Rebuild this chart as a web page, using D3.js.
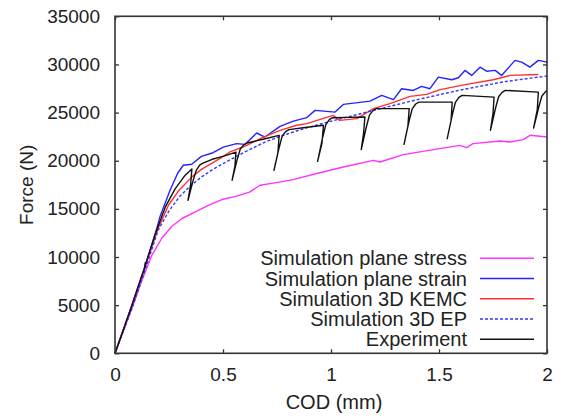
<!DOCTYPE html>
<html>
<head>
<meta charset="utf-8">
<script src="https://cdn.jsdelivr.net/npm/d3@7"></script>
<style>
  html, body { margin: 0; padding: 0; background: #fff; }
  text { font-family: "Liberation Sans", Arial, Helvetica, sans-serif; fill: #222; }
</style>
</head>
<body>
<svg id="chart" width="568" height="418"></svg>
<script>
// values: [COD (mm), Force (N)]
const codTicks = [0, 0.5, 1, 1.5, 2];
const forceTicks = [0, 5000, 10000, 15000, 20000, 25000, 30000, 35000];

const planeStress = [[0,0],[0.04,2450],[0.079,4700],[0.125,7600],[0.171,10200],[0.218,12000],[0.264,13200],
  [0.31,14000],[0.372,14680],[0.434,15380],[0.495,15970],[0.56,16300],[0.625,16760],[0.671,17450],[0.74,17700],
  [0.825,18040],[0.934,18670],[1.057,19350],[1.196,20040],[1.227,19870],[1.335,20640],[1.474,21150],
  [1.597,21600],[1.628,21360],[1.657,21780],[1.782,22050],[1.829,21940],[1.89,22190],[1.921,22640],[2.0,22460]];

const planeStrain = [[0,0],[0.08,5100],[0.14,9100],[0.185,12300],[0.208,14170],[0.255,16930],[0.29,18700],
  [0.316,19530],[0.355,19630],[0.4,20450],[0.45,20800],[0.501,21420],[0.563,21780],[0.602,21700],[0.656,22880],
  [0.694,22460],[0.764,23570],[0.826,24120],[0.887,24470],[0.926,25230],[1.019,25050],[1.057,25850],
  [1.181,26190],[1.235,26780],[1.289,26340],[1.327,27480],[1.381,27300],[1.42,27720],[1.458,27480],
  [1.497,28680],[1.559,28410],[1.59,28620],[1.62,29380],[1.651,28860],[1.69,29720],[1.72,29300],[1.76,29380],
  [1.79,28860],[1.852,30420],[1.883,30240],[1.921,29720],[1.96,30420],[2.0,30240]];

const kemc = [[0,0],[0.08,5100],[0.14,9000],[0.2,13000],[0.248,15400],[0.295,16900],[0.36,18400],[0.4,19100],
  [0.45,19750],[0.49,20300],[0.532,20910],[0.6,21500],[0.687,22460],[0.764,23160],[0.841,23680],[0.888,23850],
  [0.95,24300],[1.01,24710],[1.04,24190],[1.12,24370],[1.196,25410],[1.273,25930],[1.366,26680],[1.443,26890],
  [1.505,27380],[1.628,27930],[1.751,28410],[1.829,28860],[1.96,28960]];

const ep = [[0,0],[0.079,4700],[0.14,8700],[0.2,12800],[0.25,14800],[0.3,16300],[0.35,17400],[0.4,18300],
  [0.45,19050],[0.5,19700],[0.6,20900],[0.7,22000],[0.8,22800],[0.9,23500],[1.0,24100],[1.2,25250],
  [1.4,26350],[1.6,27350],[1.8,28200],[2.0,28800]];

const experiment = [[0,0],[0.04,2500],[0.08,5100],[0.12,7800],[0.135,8700],[0.14,9400],[0.137,8900],[0.145,9500],
  [0.187,12440],[0.233,15200],[0.279,17100],[0.325,18500],[0.356,19150],[0.35,17500],[0.338,15900],
  [0.361,17900],[0.376,19000],[0.392,19550],[0.407,19750],[0.45,20150],[0.5,20450],[0.56,20900],
  [0.555,19400],[0.542,17970],[0.565,20060],[0.58,21220],[0.596,21650],[0.611,21840],[0.68,22200],[0.76,22640],
  [0.754,20800],[0.736,19010],[0.759,21290],[0.774,22550],[0.79,23030],[0.805,23230],[0.88,23450],[0.965,23680],
  [0.958,21800],[0.938,19940],[0.961,22390],[0.976,23750],[0.992,24270],[1.007,24470],[1.08,24500],[1.157,24540],
  [1.151,22900],[1.14,21150],[1.163,23450],[1.178,24730],[1.194,25210],[1.209,25410],[1.362,25410],
  [1.356,23600],[1.338,21700],[1.361,24070],[1.376,25390],[1.392,25890],[1.407,26090],[1.561,26090],
  [1.556,24200],[1.538,22300],[1.561,24720],[1.576,26070],[1.592,26590],[1.607,26790],[1.755,26610],
  [1.75,24900],[1.738,23160],[1.761,25400],[1.776,26640],[1.792,27100],[1.807,27300],[1.96,27130],
  [1.955,25300],[1.938,23400],[1.961,25500],[1.976,26700],[1.992,27150],[2.0,27300]];

const seriesNames = ["Simulation plane stress", "Simulation plane strain", "Simulation 3D KEMC", "Simulation 3D EP", "Experiment"];
const seriesData = [planeStress, planeStrain, kemc, ep, experiment];
const seriesColors = ["#ff33ff", "#2323ff", "#ff3030", "#3535ff", "#111111"];
const seriesDash = [null, null, null, "3,2", null];

const svg = d3.select("#chart");
const plotLeft = 115, plotRight = 547, plotTop = 16.3, plotBottom = 353.3;

const x = d3.scaleLinear().domain([0, 2]).range([plotLeft, plotRight]);
const y = d3.scaleLinear().domain([0, 35000]).range([plotBottom, plotTop]);

// plot lines first, frame on top
const line = d3.line().x(d => x(d[0])).y(d => y(d[1]));
seriesData.forEach((data, i) => {
    svg.append("path")
        .datum(data)
        .attr("d", line)
        .attr("fill", "none")
        .attr("stroke", seriesColors[i])
        .attr("stroke-width", 1.4)
        .attr("stroke-linejoin", "round")
        .attr("stroke-dasharray", seriesDash[i]);
});

// axes, gnuplot style: inward ticks, mirrored on top and right
const fontSize = 19, labelSize = 20;
svg.append("g").attr("transform", `translate(0,${plotBottom})`)
    .call(d3.axisBottom(x).tickValues(codTicks).tickSize(-4).tickPadding(14).tickFormat(d3.format("")));
svg.append("g").attr("transform", `translate(${plotLeft},0)`)
    .call(d3.axisLeft(y).tickValues(forceTicks).tickSize(-4).tickPadding(15).tickFormat(d3.format("d")));
svg.append("g").attr("transform", `translate(0,${plotTop})`)
    .call(d3.axisTop(x).tickValues(codTicks).tickSize(-4).tickFormat(""));
svg.append("g").attr("transform", `translate(${plotRight},0)`)
    .call(d3.axisRight(y).tickValues(forceTicks).tickSize(-4).tickFormat(""));

svg.selectAll(".domain").remove();
svg.selectAll(".tick line").attr("stroke", "#333").attr("stroke-width", 1.3);
svg.selectAll(".tick text").attr("font-size", fontSize).attr("fill", "#222")
    .style("font-family", "'Liberation Sans', Arial, sans-serif");

svg.append("rect")
    .attr("x", plotLeft).attr("y", plotTop)
    .attr("width", plotRight - plotLeft).attr("height", plotBottom - plotTop)
    .attr("fill", "none").attr("stroke", "#333").attr("stroke-width", 1.6);

// axis titles
svg.append("text")
    .attr("x", (plotLeft + plotRight) / 2 + 3).attr("y", 409)
    .attr("text-anchor", "middle").attr("font-size", labelSize)
    .text("COD (mm)");
svg.append("text")
    .attr("transform", `translate(33,${(plotTop + plotBottom) / 2}) rotate(-90)`)
    .attr("text-anchor", "middle").attr("font-size", fontSize)
    .text("Force (N)");

// legend
const legend = svg.append("g");
seriesNames.forEach((name, i) => {
    const ly = 258.3 + i * 20.25;
    legend.append("text")
        .attr("x", 467).attr("y", ly).attr("dy", "0.35em")
        .attr("text-anchor", "end").attr("font-size", labelSize)
        .text(name);
    legend.append("line")
        .attr("x1", 480).attr("x2", 534).attr("y1", ly).attr("y2", ly)
        .attr("stroke", seriesColors[i]).attr("stroke-width", 1.4)
        .attr("stroke-dasharray", seriesDash[i]);
});
</script>
</body>
</html>
